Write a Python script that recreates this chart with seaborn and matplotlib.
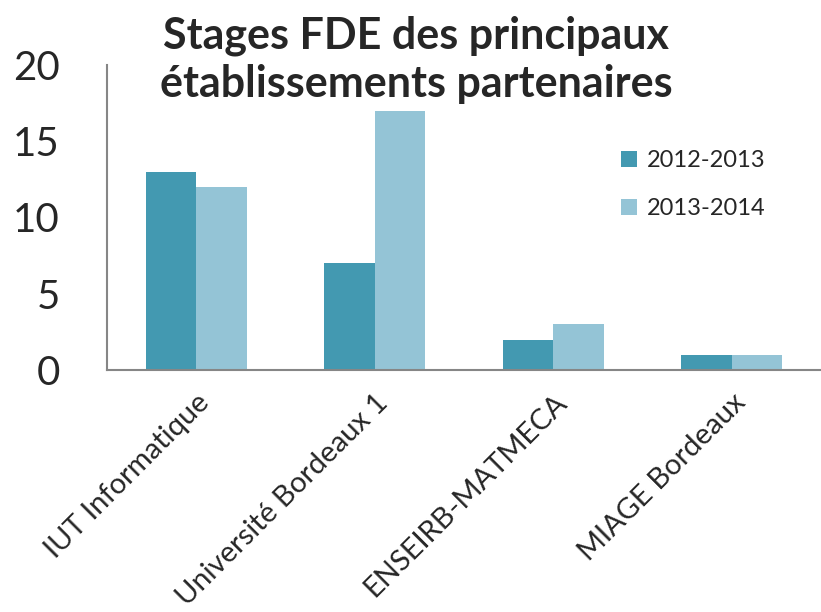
import matplotlib
matplotlib.use("Agg")
import matplotlib.pyplot as plt
import seaborn as sns
import pandas as pd

categories = ["IUT Informatique", "Université Bordeaux 1", "ENSEIRB-MATMECA", "MIAGE Bordeaux"]
series_names = ["2012-2013", "2013-2014"]
values_2012 = [13, 7, 2, 1]
values_2013 = [12, 17, 3, 1]
colors = ["#4399B1", "#94C4D6"]
y_ticks = [0, 5, 10, 15, 20]

sns.set_theme(style="white")
plt.rcParams["font.family"] = ["Lato", "DejaVu Sans"]

df = pd.DataFrame({
    "cat": categories * 2,
    "val": values_2012 + values_2013,
    "serie": [series_names[0]] * 4 + [series_names[1]] * 4,
})

fig = plt.figure(figsize=(8.21, 6.12), dpi=100)
ax = fig.add_axes([107 / 821, 1 - 370 / 612, 1 - 107 / 821, (370 - 65) / 612])
sns.barplot(data=df, x="cat", y="val", hue="serie", palette=colors,
            width=0.567, saturation=1, ax=ax, legend=True, linewidth=0)
ax.set_ylim(0, 20)
ax.set_xlim(-0.5, 3.5)
ax.set_yticks(y_ticks)
ax.set_yticklabels([str(v) for v in y_ticks], fontsize=29)
ax.set_xticks(range(len(categories)))
ax.set_xticklabels(categories, rotation=45, ha="right", rotation_mode="anchor", fontsize=21)
ax.tick_params(axis="y", length=0, pad=34)
ax.tick_params(axis="x", length=0, pad=14)
ax.set_xlabel("")
ax.set_ylabel("")
for s in ["top", "right"]:
    ax.spines[s].set_visible(False)
for s in ["left", "bottom"]:
    ax.spines[s].set_color("#868686")
    ax.spines[s].set_linewidth(1.5)
ax.set_zorder(0)

leg = ax.legend(loc="upper left", bbox_to_anchor=(0.69, 0.79), frameon=False,
                fontsize=17, handlelength=0.7, handleheight=0.7, labelspacing=1.15,
                handletextpad=0.4)

fig.text(0.507, 1 - 48 / 612, "Stages FDE des principaux",
         ha="center", va="baseline", fontsize=31, fontweight="bold", zorder=10)
fig.text(0.507, 1 - 97 / 612, "établissements partenaires",
         ha="center", va="baseline", fontsize=31, fontweight="bold", zorder=10)

fig.savefig("out.png", dpi=100)
